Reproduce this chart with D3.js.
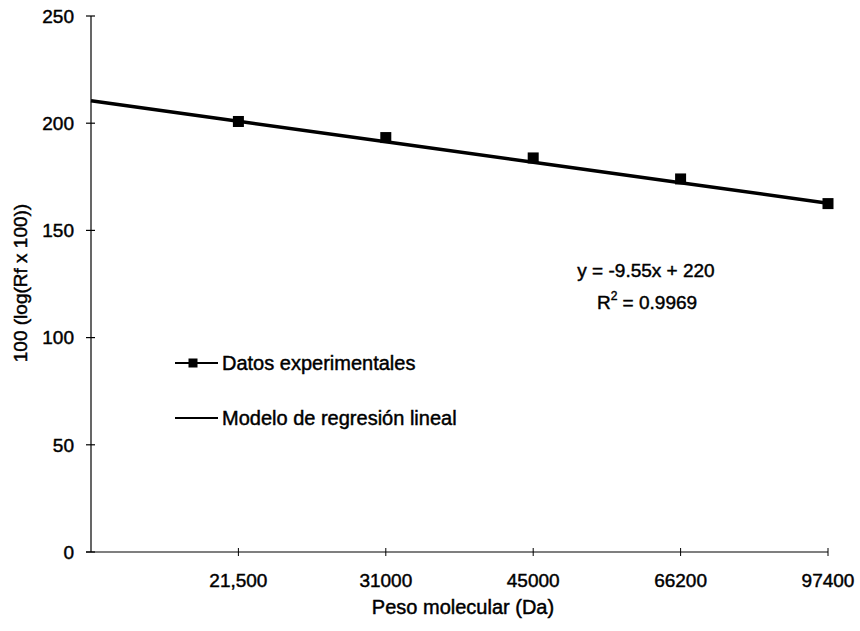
<!DOCTYPE html>
<html>
<head>
<meta charset="utf-8">
<script src="https://cdn.jsdelivr.net/npm/d3@7"></script>
<style>
  html, body { margin: 0; padding: 0; background: #fff; }
  svg { display: block; }
  text { font-family: "Liberation Sans", Arial, sans-serif; fill: #000; stroke: #000; stroke-width: 0.45px; }
</style>
</head>
<body>
<svg id="chart" width="860" height="631"></svg>
<script>
// ---- data ----
const categories = ["21,500", "31000", "45000", "66200", "97400"];
const experimental = [200.8, 193.3, 183.8, 174.0, 162.5];
const regSlope = -9.55;
const regIntercept = 220;
const regX = [0, 1, 2, 3, 4, 5];            // category positions the line spans
const yTicks = [0, 50, 100, 150, 200, 250];
const eqText = "y = -9.55x + 220";
const r2Value = "0.9969";
const legendLabels = ["Datos experimentales", "Modelo de regresión lineal"];
const xTitle = "Peso molecular (Da)";
const yTitle = "100 (log(Rf x 100))";

// ---- layout ----
const svg = d3.select("#chart");
const x = d3.scaleLinear().domain([0, 5]).range([91, 828]);
const y = d3.scaleLinear().domain([0, 250]).range([552, 16]);

// y axis
const yAxis = svg.append("g");
yAxis.append("line")
  .attr("x1", x(0)).attr("x2", x(0))
  .attr("y1", y(0)).attr("y2", y(250))
  .attr("stroke", "#000").attr("stroke-width", 1.2);
yAxis.selectAll("line.tick").data(yTicks).join("line")
  .attr("class", "tick")
  .attr("x1", x(0) - 5).attr("x2", x(0) + 4)
  .attr("y1", d => y(d)).attr("y2", d => y(d))
  .attr("stroke", "#000").attr("stroke-width", 1.2);
yAxis.selectAll("text").data(yTicks).join("text")
  .attr("x", x(0) - 17).attr("y", d => y(d))
  .attr("dy", "0.36em")
  .attr("text-anchor", "end")
  .attr("font-size", 19)
  .text(d => d);

// x axis
const xAxis = svg.append("g");
xAxis.append("line")
  .attr("x1", x(0) - 5).attr("x2", x(5))
  .attr("y1", y(0)).attr("y2", y(0))
  .attr("stroke", "#000").attr("stroke-width", 1.2);
xAxis.selectAll("line.tick").data(categories).join("line")
  .attr("class", "tick")
  .attr("x1", (d, i) => x(i + 1)).attr("x2", (d, i) => x(i + 1))
  .attr("y1", y(0) - 4).attr("y2", y(0) + 4)
  .attr("stroke", "#000").attr("stroke-width", 1);
xAxis.selectAll("text").data(categories).join("text")
  .attr("x", (d, i) => x(i + 1)).attr("y", y(0) + 35)
  .attr("text-anchor", "middle")
  .attr("font-size", 19)
  .text(d => d);

// titles
svg.append("text")
  .attr("x", 463).attr("y", 614)
  .attr("text-anchor", "middle")
  .attr("font-size", 20)
  .text(xTitle);
svg.append("text")
  .attr("transform", `translate(27,283) rotate(-90)`)
  .attr("text-anchor", "middle")
  .attr("font-size", 19)
  .text(yTitle);

// regression line
const line = d3.line().x(d => x(d)).y(d => y(regSlope * (d + 1) + regIntercept));
svg.append("path")
  .datum(regX)
  .attr("d", line)
  .attr("fill", "none")
  .attr("stroke", "#000")
  .attr("stroke-width", 3.5);

// experimental points
svg.selectAll("rect.pt").data(experimental).join("rect")
  .attr("class", "pt")
  .attr("x", (d, i) => x(i + 1) - 5.5)
  .attr("y", d => y(d) - 5.5)
  .attr("width", 11).attr("height", 11)
  .attr("fill", "#000");

// equation
svg.append("text")
  .attr("x", 646).attr("y", 277)
  .attr("text-anchor", "middle")
  .attr("font-size", 19)
  .text(eqText);
const r2 = svg.append("text")
  .attr("x", 647).attr("y", 309)
  .attr("text-anchor", "middle")
  .attr("font-size", 19);
r2.append("tspan").text("R");
r2.append("tspan").attr("font-size", 12).attr("dy", -9).text("2");
r2.append("tspan").attr("dy", 9).text(" = " + r2Value);

// legend
const lg = svg.append("g");
const rowsY = [363, 418];
lg.append("line")
  .attr("x1", 175).attr("x2", 218).attr("y1", rowsY[0]).attr("y2", rowsY[0])
  .attr("stroke", "#000").attr("stroke-width", 2);
lg.append("rect")
  .attr("x", 193 - 4.5).attr("y", rowsY[0] - 4.5)
  .attr("width", 9).attr("height", 9).attr("fill", "#000");
lg.append("line")
  .attr("x1", 175).attr("x2", 218).attr("y1", rowsY[1]).attr("y2", rowsY[1])
  .attr("stroke", "#000").attr("stroke-width", 2);
lg.selectAll("text").data(legendLabels).join("text")
  .attr("x", 222).attr("y", (d, i) => rowsY[i])
  .attr("dy", "0.36em")
  .attr("font-size", 20)
  .text(d => d);
</script>
</body>
</html>
